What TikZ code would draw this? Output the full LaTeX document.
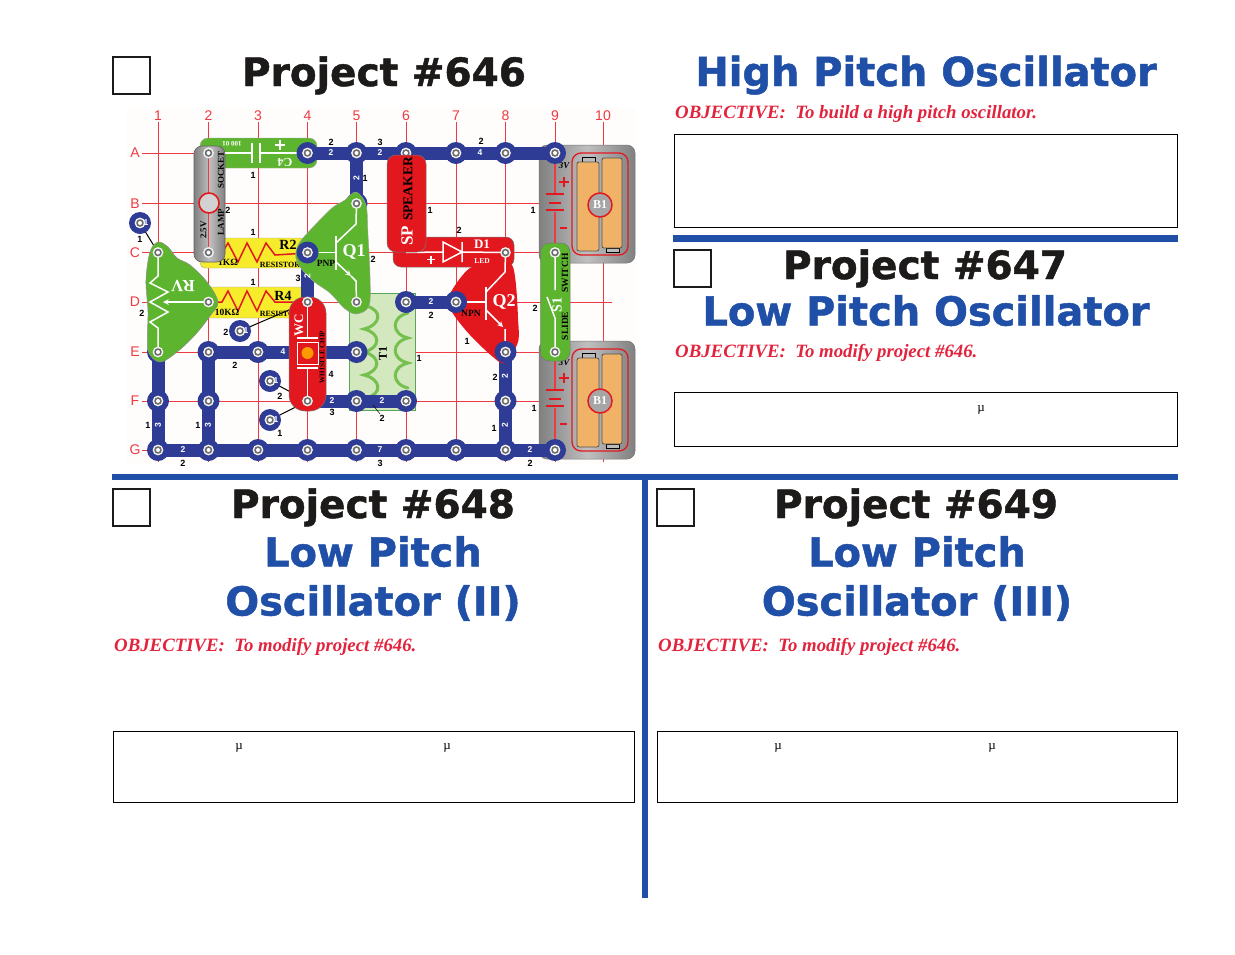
\documentclass[tikz,border=0pt]{standalone}
\usepackage{fontspec}
\setmainfont{Liberation Serif}
\setsansfont{Liberation Sans}
\newfontfamily\ttlfont[FakeBold=1.2]{DejaVu Sans Bold}
\definecolor{secblue}{HTML}{1F4FA6}
\definecolor{wireblue}{HTML}{2E3C96}
\definecolor{objred}{HTML}{E2233D}
\definecolor{gridred}{HTML}{EE3A43}
\definecolor{partred}{HTML}{E3181F}
\definecolor{partgreen}{HTML}{5DB52F}
\definecolor{partyellow}{HTML}{F6EC2B}
\definecolor{cellorange}{HTML}{EFB267}
\definecolor{gray1}{HTML}{8E8E8E}
\definecolor{t1green}{HTML}{D3E8BE}
\definecolor{inkblack}{HTML}{1D1A1A}
\newcounter{nn}
\tikzset{
  ttl/.style={font=\ttlfont\fontsize{39}{40}\selectfont, text=inkblack, inner sep=0pt, anchor=base},
  ttlb/.style={font=\ttlfont\fontsize{39.9}{41}\selectfont, text=secblue, inner sep=0pt, anchor=base},
  obj/.style={font=\bfseries\itshape\fontsize{18.8}{20}\selectfont, text=objred, inner sep=0pt, anchor=west},
  box/.style={draw=black, line width=1pt, fill=white},
  chk/.style={draw=inkblack, line width=2.8pt, fill=white},
  secline/.style={draw=secblue, line width=6.5pt},
  gridline/.style={draw=gridred, line width=0.7pt},
  wire/.style={draw=wireblue, line width=13pt},
  part/.style={draw=inkblack!55, line width=0.5pt},
  sym/.style={draw=white, line width=1.5pt},
  wl/.style={font=\sffamily\bfseries\fontsize{8.5}{9}\selectfont, text=white, inner sep=0pt},
  bl/.style={font=\sffamily\bfseries\fontsize{9}{10}\selectfont, text=black, inner sep=0pt},
  gl/.style={font=\sffamily\fontsize{14}{14}\selectfont, text=gridred, inner sep=0pt},
  pk/.style={font=\bfseries\fontsize{#1}{#1}\selectfont, text=black, inner sep=0pt},
  pw/.style={font=\bfseries\fontsize{#1}{#1}\selectfont, text=white, inner sep=0pt},
  mu/.style={font=\fontsize{13}{13}\selectfont, text=black, inner sep=0pt},
  metal/.style={left color=gray1!90!black, right color=gray1!90!black, middle color=gray!50!white, shading angle=90},
}
\newcommand{\snapcore}[1]{%
  \fill[white!90!gray] (#1) circle (5.4pt);
  \fill[gray!85!black] (#1) circle (3.8pt);
  \fill[white] (#1) circle (2pt);}
\newcommand{\snapat}[1]{%
  \fill[wireblue] (#1) circle (11pt);
  \snapcore{#1}}
\newcommand{\WL}[3][0]{\stepcounter{nn}\node[wl,rotate=#1] (w\thenn) at (#2) {#3};}
\newcommand{\BL}[2]{\stepcounter{nn}\node[bl] (b\thenn) at (#1) {#2};}
\newcommand{\PK}[4][0]{\stepcounter{nn}\node[pk=#2,rotate=#1] (k\thenn) at (#3) {#4};}
\newcommand{\PW}[4][0]{\stepcounter{nn}\node[pw=#2,rotate=#1] (p\thenn) at (#3) {#4};}
\newcommand{\battery}[1]{% #1 = y offset
  \begin{scope}[yshift=-#1pt]
    \shade[metal,rounded corners=8pt] (539,145) rectangle (635,263);
    \draw[inkblack!60,line width=.5pt,rounded corners=8pt] (539,145) rectangle (635,263);
    \draw[partred,line width=1.3pt,rounded corners=9pt] (572,153) rectangle (628,255);
    \fill[gray1!60!white,draw=black,line width=.5pt] (582,157) rectangle (595,162);
    \fill[gray1!60!white,draw=black,line width=.5pt] (606,248) rectangle (619,252);
    \fill[cellorange,draw=inkblack!75,line width=.8pt,rounded corners=2pt] (577,162) rectangle (599,251);
    \fill[cellorange,draw=inkblack!75,line width=.8pt,rounded corners=2pt] (602,158) rectangle (622,248);
    \draw[gridred,line width=1.2pt] (555,153) -- (555,194) (555,212) -- (555,252);
    \draw[partred,line width=1.3pt] (546,194) -- (564,194) (549,203) -- (561,203) (546,210) -- (564,210);
    \draw[partred,line width=1.8pt] (559,182) -- (569,182) (564,177) -- (564,187) (560,228) -- (567,228);
    \fill[gray!70!white,draw=partred,line width=1.5pt] (600,205) circle (12pt);
  \end{scope}}
\begin{document}
\begin{tikzpicture}[x=1pt,y=-1pt]
\useasboundingbox (0,0) rectangle (1235,954);
\fill[white] (0,0) rectangle (1235,954);
% ---- grid of the board
\fill[red!1!white] (127,108) rectangle (636,465);
\foreach \c/\x in {1/158,2/208.5,3/258,4/307.5,5/356.5,6/406,7/456,8/505.5,9/555,10/603}
  \foreach \r/\y in {A/153,B/203.5,C/252.5,D/302,E/352,F/401,G/450}
    \coordinate (\r\c) at (\x,\y);
\foreach \c/\x in {1/158,2/208.5,3/258,4/307.5,5/356.5,6/406,7/456,8/505.5,9/555,10/603}{
  \draw[gridline] (\x,122) -- (\x,462);
  \node[gl] (col\c) at (\x,115.5) {\c};}
\foreach \r/\y in {A/153,B/203.5,C/252.5,D/302,E/352,F/401,G/450}{
  \draw[gridline] (142,\y) -- (612,\y);
  \node[gl] (row\r) at (135,\y) {\r};}
% ---- T1
\fill[t1green,draw=gray!70!green,line width=.7pt] (349,293) rectangle (415,410);
\draw[partgreen!85!white,line width=3pt,line cap=round]
    (366,306) .. controls +(17,4) and +(17,-4) .. (364,329)
    .. controls +(17,4) and +(17,-4) .. (364,352)
    .. controls +(17,4) and +(17,-4) .. (364,375)
    .. controls +(17,4) and +(17,-4) .. (366,398);
\draw[partgreen!85!white,line width=3pt,line cap=round]
    (408,313) .. controls +(-17,4) and +(-17,-4) .. (408,338)
    .. controls +(-17,4) and +(-17,-4) .. (408,363)
    .. controls +(-17,4) and +(-17,-4) .. (408,388);
\PK[90]{12}{383,353}{T1}
% ---- batteries
\battery{0}
\battery{196}
\PW{12}{600,205}{B1}
\PW{12}{600,401}{B1}
\node[font=\bfseries\itshape\fontsize{9}{9}\selectfont,inner sep=0pt] (v1) at (564,166) {3V};
\node[font=\bfseries\itshape\fontsize{9}{9}\selectfont,inner sep=0pt] (v2) at (564,363) {3V};
% ---- capacitor
\fill[partgreen,rounded corners=8pt,draw=inkblack!40,line width=.4pt] (200,138) rectangle (317,168);
\draw[sym] (209,153) -- (252,153) (252,143) -- (252,163) (260,143) -- (260,163) (260,153) -- (307,153);
\draw[white,line width=1.8pt] (275,145) -- (285,145) (280,140) -- (280,150);
\PW[180]{12}{285,162}{C4}
\PW[180]{7}{232,143.5}{100 01}
% ---- resistors
\fill[partyellow,rounded corners=5pt,draw=inkblack!40,line width=.4pt] (200,238) rectangle (305,268);
\fill[partyellow,rounded corners=5pt,draw=inkblack!40,line width=.4pt] (205,287) rectangle (305,318);
\draw[partred,line width=1.5pt] (209,253) -- (222,253) -- (228,243) -- (238,262) -- (247,243) -- (257,262) -- (266,243) -- (275,255) -- (307,253);
\draw[partred,line width=1.5pt] (209,302) -- (222,302) -- (228,291) -- (238,311) -- (247,291) -- (257,311) -- (266,291) -- (275,302) -- (307,302);
\PK{14}{288,245}{R2}
\PK{14}{283,295.5}{R4}
\PK{9.5}{228,262}{1KΩ}
\PK{9.5}{227,312}{10KΩ}
\PK{8}{280,264.5}{RESISTOR}
\PK{8}{280,313.5}{RESISTOR}
% ---- wires
\draw[wire] (A4) -- (A9);
\draw[wire] (A5) -- (B5);
\draw[wire] (C4) -- (D4);
\draw[wire] (E2) -- (E5);
\draw[wire] (E1) -- (G1);
\draw[wire] (E2) -- (G2);
\draw[wire] (G1) -- (G9);
\draw[wire] (F4) -- (F6);
\draw[wire] (D6) -- (D7);
\draw[wire] (E8) -- (G8);
% ---- single snaps and their leads
\coordinate (i1) at (140,223);
\coordinate (i2) at (240,331);
\coordinate (i3) at (270,381);
\coordinate (i4) at (270,420);
\draw[black,line width=1pt] (i1) -- (C1) (i2) -- (D4) (i3) -- (F4) (i4) -- (F4);
\foreach \n in {A4,A5,A6,A7,A8,A9,E1,E2,E3,E5,F1,F2,F5,F6,G1,G2,G3,G4,G5,G6,G7,G8,G9,D6,D7,F8,B5,i1,i2,i3,i4}{\snapat{\n}}
\foreach \n in {i1,i2,i3,i4}{\node[wl] (lab\n) at ([xshift=6pt]\n) {1};}
% ---- lamp
\shade[metal,rounded corners=8pt] (194,146) rectangle (225,262);
\draw[inkblack!70,line width=.6pt,rounded corners=8pt] (194,146) rectangle (225,262);
\draw[gridred,line width=1.3pt] (A2) -- (C2);
\fill[gray!35!white,draw=partred,line width=1.6pt] (209,203) circle (10pt);
\snapcore{A2}\snapcore{C2}
\PK[90]{9}{221,170}{SOCKET}
\PK[90]{9}{221,222}{LAMP}
\PK[90]{9}{203.5,230}{2.5V}
% ---- Q1
\fill[partgreen,draw=inkblack!40,line width=.4pt] plot[smooth cycle,tension=.55] coordinates
  {(356,192) (366,205) (368,235) (370,275) (369,306) (356,314) (344,308) (330,293) (312,280) (297,262) (298,245) (315,225) (332,208) (345,200)};
\draw[sym] (C4) -- (336,252.5) (336,236) -- (336,270);
\draw[sym] (336,243) -- (356,224) -- (B5);
\draw[sym,-stealth] (336,262) -- (351,276);
\draw[sym] (351,276) -- (356,281) -- (D5);
\snapat{C4}
\snapcore{B5}\snapcore{D5}
\PW{18}{354,252}{Q1}
\PK{9.5}{326,263}{PNP}
% ---- RV
\fill[partgreen,draw=inkblack!50,line width=.5pt] plot[smooth cycle,tension=.55] coordinates
  {(158,242) (168,247) (177,258) (190,265) (207,282) (218,302) (210,316) (195,335) (177,352) (160,362) (148,350) (148,312) (146,280) (150,252)};
\draw[sym] (C1) -- (158,276) -- (150,283) -- (168,292) -- (150,302) -- (168,312) -- (150,322) -- (158,328) -- (E1);
\draw[sym,-stealth] (D2) -- (163,302);
\snapcore{C1}\snapcore{D2}\snapcore{E1}
\PW[180]{17}{183,286}{RV}
% ---- D1
\fill[partred,draw=inkblack!60,line width=.5pt,rounded corners=8pt] (393,237) rectangle (514,267);
\draw[sym] (C6) -- (443,252) (443,242) -- (443,262) -- (462,252) -- cycle (462,242) -- (462,262) (462,252) -- (C8);
\draw[white,line width=1.6pt] (427,259.5) -- (435,259.5) (431,255.5) -- (431,263.5);
\PW{13}{482,244}{D1}
\PW{7.5}{482,261}{LED}
% ---- Q2
\fill[partred] plot[smooth cycle,tension=.5] coordinates
  {(470,268) (500,264) (512,265) (516,285) (518,318) (518,342) (505,363) (493,357) (470,335) (452,312) (449,296)};
\draw[sym] (D7) -- (486,302) (486,287) -- (486,320);
\draw[sym] (486,292) -- (505,272) -- (C8);
\draw[sym,-stealth] (486,310) -- (503,327);
\draw[sym] (505,329) -- (E8);
\snapat{D7}\snapat{E8}
\snapcore{C8}
\PW{18}{504,302}{Q2}
\PK{9.5}{471,313}{NPN}
% ---- speaker
\fill[partred,draw=inkblack!60,line width=.5pt,rounded corners=9pt] (387,155) rectangle (426,252);
\PK[90]{13.5}{408,189}{SPEAKER}
\PW[90]{17}{407,236}{SP}
% ---- switch
\fill[partgreen,draw=inkblack!60,line width=.5pt,rounded corners=9pt] (540.5,243) rectangle (570,361);
\draw[sym] (C9) -- (555,290) (555,318) -- (E9) (555,318) -- (547,297);
\snapcore{C9}\snapcore{E9}
\PK[90]{9.5}{565,273}{SWITCH}
\PK[90]{9.5}{565,326}{SLIDE}
\PW[90]{14}{557,305}{S1}
% ---- whistle chip
\fill[partred,draw=inkblack!60,line width=.5pt,rounded corners=16pt] (289,297) rectangle (326,411);
\draw[sym] (D4) -- (307.5,338) (297,338) -- (318,338) (307.5,368) -- (F4) (297,368) -- (318,368);
\draw[sym,line width=1pt] (297,342) rectangle (318,364);
\fill[orange!80!yellow] (307.5,353) circle (6pt);
\snapcore{D4}\snapcore{F4}
\PW[90]{13}{299,325}{WC}
\PK[90]{7}{322,357}{WHISTLE CHIP}
% ---- wire labels
\WL{331,153}{2}\WL{380,153}{2}\WL{480,153}{4}
\WL[90]{356.5,178}{2}\WL[90]{307.5,276}{2}
\WL{283,352}{4}\WL[90]{158,425}{3}\WL[90]{208,425}{3}
\WL{183,450}{2}\WL{380,450}{7}\WL{530,450}{2}
\WL{332,401}{2}\WL{382,401}{2}\WL{431,302}{2}
\WL[90]{505,376}{2}\WL[90]{505,425}{2}
% ---- black labels
\BL{331,142}{2}\BL{380,142}{3}\BL{481,141}{2}
\BL{253,175}{1}\BL{365,178}{1}\BL{228,210}{2}\BL{140,239}{1}
\BL{253,232}{1}\BL{253,282}{1}\BL{298,278}{3}\BL{373,259}{2}
\BL{142,313}{2}\BL{226,332}{2}\BL{235,365}{2}\BL{280,396}{2}\BL{280,433}{1}
\BL{331,374}{4}\BL{332,412}{3}\BL{382,418}{2}\BL{148,425}{1}\BL{198,425}{1}
\BL{183,463}{2}\BL{380,463}{3}\BL{530,463}{2}
\BL{430,210}{1}\BL{459,230}{2}\BL{533,210}{1}\BL{431,315}{2}\BL{419,358}{1}
\BL{467,341}{1}\BL{535,308}{2}\BL{534,408}{1}\BL{495,377}{2}\BL{494,428}{1}
\coordinate (l1) at (373,405);\coordinate (l2) at (380,414);
\draw[black,line width=.5pt] (l1) -- (l2);
% ---- frames
\draw[chk] (113,57) rectangle (150,94);
\draw[chk] (674,250) rectangle (711,287);
\draw[chk] (113,489) rectangle (150,526);
\draw[chk] (657,489) rectangle (694,526);
\draw[box] (674,134) rectangle (1177,227);
\draw[box] (674,392) rectangle (1177,446);
\draw[box] (113,731) rectangle (634,802);
\draw[box] (657,731) rectangle (1177,802);
\coordinate (s1a) at (673,238.5);\coordinate (s1b) at (1178,238.5);
\coordinate (s2a) at (112,477);\coordinate (s2b) at (1178,477);
\coordinate (s3a) at (645,477);\coordinate (s3b) at (645,898);
\draw[secline] (s1a) -- (s1b);
\draw[secline] (s2a) -- (s2b);
\draw[secline] (s3a) -- (s3b);
% ---- titles
\node[ttl] (t646) at (384,86) {Project \#646};
\node[ttlb] (n646) at (926,86) {High Pitch Oscillator};
\node[ttl] (t647) at (925,279) {Project \#647};
\node[ttlb] (n647) at (926,325.5) {Low Pitch Oscillator};
\node[ttl] (t648) at (373,518) {Project \#648};
\node[ttlb] (n648a) at (373,566.5) {Low Pitch};
\node[ttlb] (n648b) at (373,615.5) {Oscillator (II)};
\node[ttl] (t649) at (916,518) {Project \#649};
\node[ttlb] (n649a) at (917,566.5) {Low Pitch};
\node[ttlb] (n649b) at (917,615.5) {Oscillator (III)};
% ---- objectives
\node[obj] (o646) at (675,114) {OBJECTIVE:\ \ To build a high pitch oscillator.};
\node[obj] (o647) at (675,353) {OBJECTIVE:\ \ To modify project \#646.};
\node[obj] (o648) at (114,647) {OBJECTIVE:\ \ To modify project \#646.};
\node[obj] (o649) at (658,647) {OBJECTIVE:\ \ To modify project \#646.};
% ---- the micro signs left in the boxes
\node[mu] (m1) at (981,410) {µ};
\node[mu] (m2) at (239,748) {µ};
\node[mu] (m3) at (447,748) {µ};
\node[mu] (m4) at (778,748) {µ};
\node[mu] (m5) at (992,748) {µ};
\end{tikzpicture}
\end{document}
